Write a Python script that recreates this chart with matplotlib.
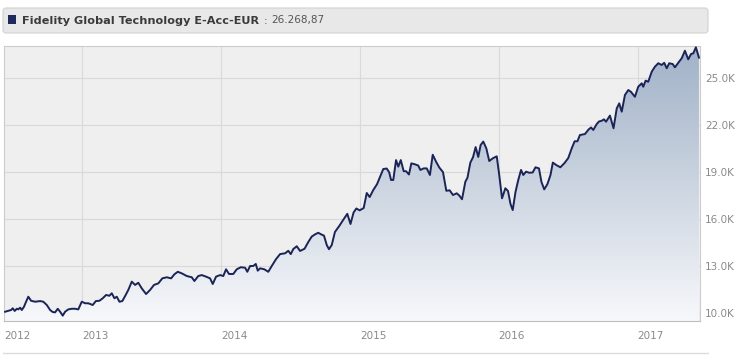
import numpy as np
import matplotlib.pyplot as plt
import matplotlib.transforms as mtransforms
from matplotlib.colors import LinearSegmentedColormap
from matplotlib.patches import FancyBboxPatch, Rectangle
from matplotlib.lines import Line2D

fund_name = 'Fidelity Global Technology E-Acc-EUR'
last_value = '26.268,87'

# decimal years and fund value (EUR)
years = [2012.446, 2012.469, 2012.489, 2012.501, 2012.515, 2012.530, 2012.541, 2012.554, 2012.566, 2012.582,
         2012.597, 2012.613, 2012.633, 2012.662, 2012.698, 2012.721, 2012.746, 2012.770, 2012.789, 2012.806,
         2012.825, 2012.842, 2012.861, 2012.878, 2012.901, 2012.926, 2012.950, 2012.973, 2012.998, 2013.022,
         2013.045, 2013.077, 2013.099, 2013.125, 2013.149, 2013.173, 2013.197, 2013.214, 2013.233, 2013.250,
         2013.269, 2013.290, 2013.310, 2013.333, 2013.358, 2013.382, 2013.405, 2013.430, 2013.461, 2013.490,
         2013.518, 2013.549, 2013.578, 2013.610, 2013.641, 2013.665, 2013.689, 2013.718, 2013.754, 2013.790,
         2013.809, 2013.837, 2013.862, 2013.893, 2013.922, 2013.941, 2013.965, 2013.994, 2014.017, 2014.037,
         2014.058, 2014.089, 2014.114, 2014.143, 2014.174, 2014.190, 2014.210, 2014.233, 2014.251, 2014.265,
         2014.282, 2014.312, 2014.341, 2014.366, 2014.397, 2014.426, 2014.462, 2014.485, 2014.503, 2014.521,
         2014.546, 2014.570, 2014.602, 2014.629, 2014.654, 2014.678, 2014.701, 2014.721, 2014.742, 2014.762,
         2014.778, 2014.798, 2014.821, 2014.854, 2014.881, 2014.910, 2014.933, 2014.955, 2014.975, 2014.999,
         2015.028, 2015.050, 2015.071, 2015.097, 2015.124, 2015.148, 2015.169, 2015.194, 2015.212, 2015.225,
         2015.241, 2015.261, 2015.277, 2015.295, 2015.316, 2015.333, 2015.354, 2015.371, 2015.397, 2015.421,
         2015.436, 2015.460, 2015.482, 2015.505, 2015.525, 2015.549, 2015.572, 2015.599, 2015.623, 2015.647,
         2015.671, 2015.698, 2015.716, 2015.736, 2015.760, 2015.775, 2015.796, 2015.815, 2015.834, 2015.853,
         2015.870, 2015.889, 2015.911, 2015.932, 2015.957, 2015.986, 2016.004, 2016.024, 2016.048, 2016.067,
         2016.085, 2016.101, 2016.121, 2016.141, 2016.161, 2016.177, 2016.197, 2016.220, 2016.245, 2016.265,
         2016.290, 2016.308, 2016.328, 2016.351, 2016.373, 2016.390, 2016.415, 2016.444, 2016.474, 2016.501,
         2016.526, 2016.547, 2016.567, 2016.585, 2016.621, 2016.647, 2016.665, 2016.681, 2016.706, 2016.722,
         2016.742, 2016.758, 2016.773, 2016.801, 2016.827, 2016.850, 2016.868, 2016.886, 2016.909, 2016.933,
         2016.952, 2016.981, 2017.005, 2017.030, 2017.041, 2017.058, 2017.077, 2017.102, 2017.125, 2017.149,
         2017.174, 2017.192, 2017.210, 2017.228, 2017.253, 2017.269, 2017.293, 2017.318, 2017.341, 2017.365,
         2017.385, 2017.401, 2017.420, 2017.442]
values = [10050, 10110, 10160, 10270, 10100, 10240, 10200, 10310, 10160, 10370,
          10690, 11010, 10750, 10690, 10730, 10690, 10480, 10160, 10030, 10010,
          10240, 10050, 9800, 10050, 10200, 10240, 10240, 10200, 10690, 10590,
          10590, 10480, 10730, 10750, 10910, 11120, 11070, 11230, 10910, 11010,
          10690, 10730, 11050, 11440, 11970, 11760, 11900, 11540, 11180, 11440,
          11760, 11860, 12180, 12250, 12180, 12440, 12600, 12500, 12330, 12250,
          12010, 12330, 12390, 12290, 12180, 11820, 12290, 12390, 12330, 12760,
          12460, 12460, 12760, 12890, 12860, 12600, 12970, 12970, 13100, 12670,
          12820, 12760, 12600, 12970, 13410, 13730, 13780, 13940, 13730, 14050,
          14230, 13930, 14070, 14500, 14850, 14990, 15090, 14990, 14910, 14310,
          14040, 14310, 15140, 15550, 15920, 16300, 15650, 16380, 16640, 16520,
          16670, 17630, 17370, 17820, 18190, 18710, 19160, 19190, 18940, 18460,
          18460, 19730, 19310, 19730, 19020, 19020, 18810, 19520, 19460, 19380,
          19100, 19200, 19200, 18780, 20070, 19630, 19260, 18960, 17770, 17800,
          17500, 17610, 17470, 17230, 18350, 18600, 19570, 19910, 20560, 19930,
          20690, 20910, 20480, 19670, 19840, 19970, 18780, 17290, 17930, 17760,
          16930, 16540, 17690, 18460, 19100, 18780, 18990, 18920, 18940, 19270,
          19200, 18330, 17860, 18200, 18780, 19570, 19410, 19270, 19540, 19860,
          20480, 20930, 20930, 21330, 21390, 21680, 21810, 21650, 22030, 22190,
          22240, 22330, 22180, 22570, 21760, 23030, 23350, 22820, 23880, 24200,
          24090, 23770, 24410, 24630, 24410, 24800, 24730, 25370, 25690, 25910,
          25800, 25940, 25590, 25910, 25860, 25650, 25940, 26230, 26710, 26160,
          26500, 26540, 26930, 26268.87]

y_ticks = [10000, 13000, 16000, 19000, 22000, 25000]
y_labels = ['10.0K', '13.0K', '16.0K', '19.0K', '22.0K', '25.0K']
year_ticks = [2013, 2014, 2015, 2016, 2017]
x_label_pos = [2012.438, 2013, 2014, 2015, 2016, 2017]
x_labels = ['2012', '2013', '2014', '2015', '2016', '2017']

W, H = 738, 363
fig = plt.figure(figsize=(W / 100, H / 100), dpi=100)
fig.patch.set_facecolor('white')

# plot area in pixels: x 4..699.5, y 45.7..321.3
ax = fig.add_axes([4 / W, (H - 321.3) / H, 695.5 / W, 275.6 / H])
ax.set_facecolor('#efefef')
xmin, xmax = 2012.438, 2017.446
ymin, ymax = 9440, 27030
ax.set_xlim(xmin, xmax)
ax.set_ylim(ymin, ymax)

# gradient fill under the line
cmap = LinearSegmentedColormap.from_list('fill', ['#f7f8fb', '#cbd4e0', '#a0b1c8'])
grad = np.linspace(0, 1, 256).reshape(-1, 1)
im = ax.imshow(grad, extent=[xmin, xmax, ymin, ymax], origin='lower', aspect='auto',
               cmap=cmap, zorder=1)
poly = ax.fill_between(years, values, ymin, color='none', lw=0)
im.set_clip_path(poly.get_paths()[0], transform=ax.transData)

ax.plot(years, values, color='#1b2456', lw=1.4, zorder=3, solid_joinstyle='round')

ax.set_yticks(y_ticks)
ax.set_yticklabels(y_labels)
ax.set_xticks(year_ticks)
ax.set_xticklabels([])
ax.grid(True, color='#d9d9d9', lw=0.8, zorder=0)
ax.set_axisbelow(True)
ax.yaxis.tick_right()
ax.tick_params(axis='y', length=0, pad=4, labelcolor='#8a8a8a', labelsize=7.5)
ax.tick_params(axis='x', length=0)
for s in ax.spines.values():
    s.set_color('#cccccc')
    s.set_linewidth(0.8)
ax.spines['bottom'].set_color('#bdbdbd')

# x labels left-aligned at the year lines
trans = mtransforms.offset_copy(mtransforms.blended_transform_factory(ax.transData, ax.transAxes),
                                fig=fig, x=0, y=-15, units='dots')
for xp, lab in zip(x_label_pos, x_labels):
    ax.text(xp, 0, lab, transform=trans, ha='left', va='center', fontsize=7.5, color='#8a8a8a')

# title bar
box = FancyBboxPatch((0.03, (H - 33) / 100), 7.05, 0.25,
                     boxstyle='round,pad=0,rounding_size=0.03',
                     transform=fig.dpi_scale_trans, facecolor='#e8e8e8', edgecolor='#d2d2d2', lw=0.8)
fig.add_artist(box)
fig.add_artist(Rectangle((0.08, (H - 24) / 100), 0.08, 0.09, transform=fig.dpi_scale_trans,
                         facecolor='#1c2a5e', edgecolor='none'))
title_y = (H - 20.5) / H
fig.text(22 / W, title_y, fund_name, fontsize=8.1, fontweight='bold',
         color='#3a3a3a', va='center', ha='left')
fig.text(264 / W, title_y, ':', fontsize=7.5, color='#555555', va='center', ha='left')
fig.text(271 / W, title_y, last_value, fontsize=7.5, color='#555555', va='center', ha='left')

fig.add_artist(Line2D([3 / W, 708 / W], [(H - 353) / H] * 2, color='#dcdcdc', lw=1))

fig.savefig('out.png', dpi=100)
